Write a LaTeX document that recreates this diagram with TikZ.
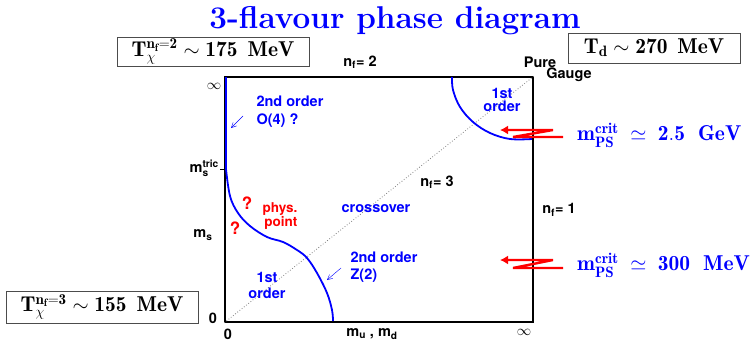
\documentclass[tikz,border=0pt]{standalone}
\usepackage{amsmath}
\usepackage{fontspec}
\setsansfont{TeX Gyre Heros}
\usetikzlibrary{arrows.meta,calc}

\begin{document}
\begin{tikzpicture}[x=1pt, y=-1pt,
  lab/.style={font=\fontsize{14.5}{16}\selectfont\sffamily\bfseries, inner sep=0pt},
  bluelab/.style={lab, text=blue, align=left},
  redlab/.style={lab, text=red},
  tbox/.style={draw=black!70, line width=0.8pt, inner sep=0pt,
               font=\fontsize{21.5}{23}\selectfont},
  crit/.style={text=blue, font=\fontsize{21.5}{23}\selectfont, anchor=west, inner sep=0pt},
  bound/.style={blue, line width=1.8pt},
  pointer/.style={blue, thin, -{Straight Barb[length=5pt, width=5pt]}},
  zarrow/.style={red, line width=2.4pt, line join=miter, -{Latex[length=8pt, width=9pt]}}
]
\useasboundingbox (0,0) rectangle (751,348);
\node[text=blue, font=\fontsize{31.5}{33}\selectfont\bfseries, anchor=base] (title) at (395,28) {3-flavour phase diagram};
% temperatures
\node[tbox, minimum width=192pt, minimum height=29pt] (T2) at (213,51.5) {$\mathbf{T}_{\chi}^{\mathbf{n_f=2}}\sim\mathbf{175\ \,MeV}$};
\node[tbox, minimum width=172pt, minimum height=30pt] (Td) at (654,48) {$\mathbf{T}_{\mathbf{d}}\sim\mathbf{270\ \,MeV}$};
\node[tbox, minimum width=192pt, minimum height=32pt] (T3) at (102,307) {$\mathbf{T}_{\chi}^{\mathbf{n_f=3}}\sim\mathbf{155\ \,MeV}$};
% frame
\node[draw, line width=1.5pt, minimum width=308pt, minimum height=245pt, inner sep=0pt] (frame) at (379,199.5) {};
\draw[gray, dotted, thick] (frame.south west) -- (frame.north east);
\node[lab] (inftop) at (214,86) {$\infty$};
\node[lab] (infright) at (524,332) {$\infty$};
\node[lab] (zeroleft) at (213,318) {0};
\node[lab] (zerobot) at (228,334) {0};
\node[lab] (mumd) at (372,334) {m\textsubscript{u} , m\textsubscript{d}};
\node[lab] (ms) at (203,235) {$\text{m}_{\text{s}}$};
\node[lab, anchor=east] (mstric) at (219,168) {$\text{m}_{\text{s}}^{\text{tric}}$};
\draw[line width=1pt] (220,169) -- (226,169);
\node[lab] (nf2) at (360,62) {n\textsubscript{f}= 2};
\node[lab] (nf3) at (437,182) {n\textsubscript{f}= 3};
\node[lab] (nf1) at (559,210) {n\textsubscript{f}= 1};
\node[lab] (pure) at (540,62) {Pure};
\node[lab] (gauge) at (569,75) {Gauge};
% phase boundaries
\draw[bound] (226,77) -- (226,169) -- plot[smooth, tension=0.6] coordinates {(226,169) (230,196) (238,213) (250,226) (267,237) (283,242) (297,250) (307,258) (317,273) (327,293) (332,310) (333,321)};
\draw[bound] plot[smooth, tension=0.6] coordinates {(452,77) (453,90) (460,107) (473,122) (490,133) (510,139) (532,139)};
% regions
\node[bluelab] (o4) at (290,112) {2nd order\\[2pt]O(4) ?};
\coordinate (o4tip) at (231,128);
\draw[pointer] (243,116) -- (o4tip);
\node[bluelab] (z2) at (384,267) {2nd order\\[1pt]Z(2)};
\coordinate (z2tip) at (327,280);
\draw[pointer] (341,268) -- (z2tip);
\node[bluelab, align=center] (first) at (267,285) {1st\\order};
\node[bluelab, align=center, font=\fontsize{14.5}{13}\selectfont\sffamily\bfseries] (firstpg) at (502,100) {1st\\order};
\node[bluelab] (cross) at (376,209) {crossover};
\node[redlab, align=right, font=\fontsize{13.5}{12.5}\selectfont\sffamily\bfseries] (phys) at (280,216) {phys.\\point};
\node[redlab, font=\fontsize{17}{18}\selectfont\sffamily\bfseries] (q1) at (247,203) {?};
\node[redlab, font=\fontsize{17}{18}\selectfont\sffamily\bfseries] (q2) at (235,228) {?};
% critical pion masses
\node[crit] (mheavy) at (577,135) {$\mathbf{m}_{\mathbf{PS}}^{\mathbf{crit}}\;\simeq\;\mathbf{2.5\ \ GeV}$};
\node[crit] (mlight) at (577,265) {$\mathbf{m}_{\mathbf{PS}}^{\mathbf{crit}}\;\simeq\;\mathbf{300\ \ MeV}$};
\coordinate (zh) at (563,137);
\coordinate (zl) at (563,268);
\draw[zarrow] (zh) -- ++(-50,0) -- ++(40,-7) -- ++(-53,0);
\draw[zarrow] (zl) -- ++(-50,0) -- ++(40,-8) -- ++(-53,0);
\end{tikzpicture}
\end{document}
